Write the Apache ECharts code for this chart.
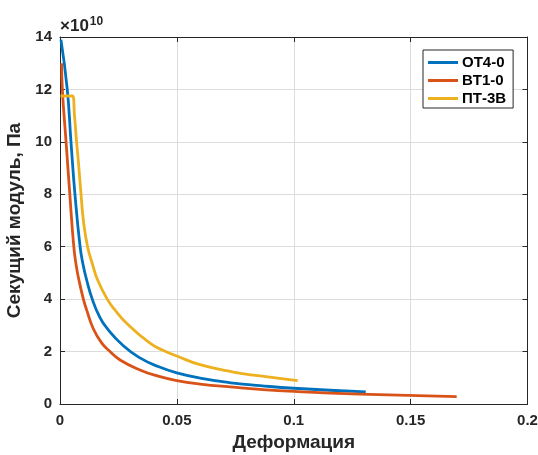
<!DOCTYPE html>
<html>
<head>
<meta charset="utf-8">
<script src="https://cdn.jsdelivr.net/npm/echarts@6/dist/echarts.min.js"></script>
<style>html,body{margin:0;padding:0;background:#fff}#c{width:538px;height:455px}</style>
</head>
<body>
<div id="c"></div>
<script>
const seriesNames = ['OT4-0', 'BT1-0', 'ПТ-3В'];
const blueX = [0.0004, 0.0031, 0.0047, 0.0064, 0.0086, 0.0099, 0.0114, 0.0138, 0.0168, 0.0200, 0.0271, 0.0342, 0.0420, 0.0500, 0.0599, 0.0741, 0.0856, 0.1000, 0.1308];
const blueY = [13.9, 12.0, 10.0, 8.0, 6.0, 5.3, 4.73, 4.0, 3.35, 2.9, 2.22, 1.76, 1.43, 1.19, 0.99, 0.80, 0.70, 0.60, 0.46];
const orangeX = [0.0007, 0.0010, 0.0026, 0.0042, 0.0059, 0.0070, 0.0081, 0.0100, 0.0114, 0.0143, 0.0178, 0.0214, 0.0257, 0.0342, 0.0420, 0.0500, 0.0599, 0.0741, 0.0856, 0.1000, 0.1280, 0.1697];
const orangeY = [13.0, 12.0, 10.0, 8.0, 6.0, 5.25, 4.73, 4.0, 3.59, 2.86, 2.33, 2.0, 1.68, 1.30, 1.06, 0.89, 0.76, 0.64, 0.555, 0.48, 0.38, 0.28];
const yellowX = [0.0002, 0.0053, 0.0062, 0.0071, 0.0078, 0.0090, 0.0100, 0.0118, 0.0140, 0.0161, 0.0202, 0.0235, 0.0285, 0.0385, 0.0440, 0.0500, 0.0599, 0.0741, 0.0856, 0.1017];
const yellowY = [11.75, 11.75, 11.0, 10.0, 9.31, 8.0, 7.0, 6.0, 5.3, 4.73, 4.0, 3.59, 3.08, 2.32, 2.05, 1.83, 1.50, 1.22, 1.07, 0.89];
const colors = ['#0072BD', '#D95319', '#EDB120'];

const zip = (xs, ys) => xs.map((x, i) => [x, ys[i]]);
const FONT = "'Liberation Sans', Arial, sans-serif";
const TXT = '#262626';

const chart = echarts.init(document.getElementById('c'), null, {renderer: 'canvas'});
const baseX = {
  type: 'value', min: 0, max: 0.2, interval: 0.05,
  axisLine: {show: true, onZero: false, lineStyle: {color: TXT, width: 1}},
  axisTick: {show: true, inside: true, length: 5, lineStyle: {color: TXT}},
  splitLine: {show: false}
};
const baseY = {
  type: 'value', min: 0, max: 14, interval: 2,
  axisLine: {show: true, onZero: false, lineStyle: {color: TXT, width: 1}},
  axisTick: {show: true, inside: true, length: 5, lineStyle: {color: TXT}},
  splitLine: {show: false}
};
const option = {
  backgroundColor: '#fff',
  animation: false,
  grid: {left: 60, right: 10.5, top: 37, bottom: 51, containLabel: false, outerBoundsMode: 'none'},
  xAxis: [
    Object.assign({}, baseX, {
      position: 'bottom',
      axisLabel: {color: TXT, fontFamily: FONT, fontWeight: 'bold', fontSize: 15, margin: 9},
      splitLine: {show: true, lineStyle: {color: '#dcdcdc', width: 1}},
      name: 'Деформация', nameLocation: 'middle', nameGap: 29,
      nameTextStyle: {color: TXT, fontFamily: FONT, fontWeight: 'bold', fontSize: 19}
    }),
    Object.assign({}, baseX, {position: 'top', axisLabel: {show: false}})
  ],
  yAxis: [
    Object.assign({}, baseY, {
      position: 'left',
      axisLabel: {color: TXT, fontFamily: FONT, fontWeight: 'bold', fontSize: 15, margin: 8},
      splitLine: {show: true, lineStyle: {color: '#dcdcdc', width: 1}},
      name: 'Секущий модуль, Па', nameLocation: 'middle', nameGap: 30,
      nameTextStyle: {color: TXT, fontFamily: FONT, fontWeight: 'bold', fontSize: 19}
    }),
    Object.assign({}, baseY, {position: 'right', axisLabel: {show: false}})
  ],
  legend: {
    left: 423, top: 50, orient: 'vertical',
    backgroundColor: '#fff', borderColor: TXT, borderWidth: 1, borderRadius: 0,
    padding: [5, 7, 2, 5], itemGap: 3, itemWidth: 30, itemHeight: 3, icon: 'rect',
    textStyle: {color: '#000', fontFamily: FONT, fontWeight: 'bold', fontSize: 15, padding: [0, 0, 0, -1]},
    data: seriesNames
  },
  graphic: [{
    type: 'text', left: 60, top: 16,
    style: {
      text: '×10{s|10}',
      rich: {s: {fontSize: 12, fontFamily: FONT, fontWeight: 'bold', fill: TXT, verticalAlign: 'top', padding: [0, 0, 9, 1]}},
      font: "bold 17px 'Liberation Sans', Arial, sans-serif", fill: TXT
    }
  }],
  series: [
    {name: seriesNames[0], type: 'line', data: zip(blueX, blueY), showSymbol: false, symbol: 'none', smooth: 0.5, lineStyle: {width: 2.8, color: colors[0]}, itemStyle: {color: colors[0]}},
    {name: seriesNames[1], type: 'line', data: zip(orangeX, orangeY), showSymbol: false, symbol: 'none', smooth: 0.5, lineStyle: {width: 2.8, color: colors[1]}, itemStyle: {color: colors[1]}},
    {name: seriesNames[2], type: 'line', data: zip(yellowX, yellowY), showSymbol: false, symbol: 'none', smooth: 0.5, lineStyle: {width: 2.8, color: colors[2]}, itemStyle: {color: colors[2]}}
  ]
};
chart.setOption(option);
</script>
</body>
</html>
